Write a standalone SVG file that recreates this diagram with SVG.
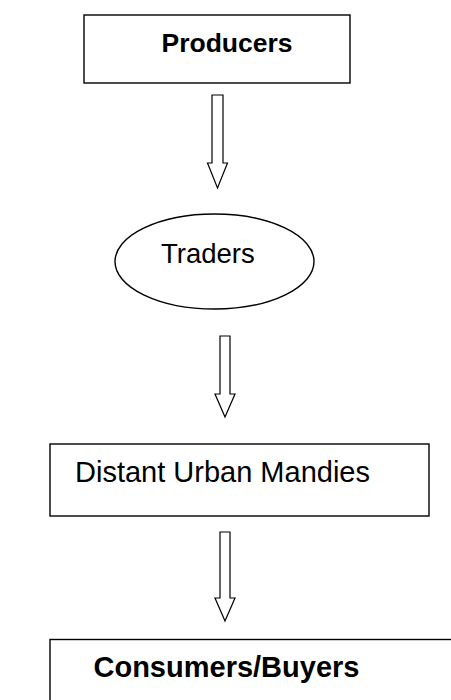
<svg xmlns="http://www.w3.org/2000/svg" width="451" height="700" viewBox="0 0 451 700">
<style>
.box{fill:#fff;stroke:#000;stroke-width:1.4}
.arr{fill:#fff;stroke:#000;stroke-width:1.2;stroke-linejoin:miter}
.t{font-family:"Liberation Sans",Arial,sans-serif;fill:#000}
.b{font-weight:bold}
</style>
<rect width="451" height="700" fill="#fff"/>
<g id="producers">
<rect class="box" x="84" y="15" width="266" height="68"/>
<text class="t b" x="161.5" y="52" font-size="26.5">Producers</text>
</g>
<g id="traders">
<ellipse class="box" cx="214.5" cy="261.5" rx="99.5" ry="47.5"/>
<text class="t" x="161" y="262.5" font-size="27.5">Traders</text>
</g>
<g id="mandies">
<rect class="box" x="50" y="444" width="379" height="72"/>
<text class="t" x="370" y="482" font-size="29" text-anchor="end">Distant Urban Mandies</text>
</g>
<g id="consumers">
<rect class="box" x="50" y="639.5" width="420" height="80"/>
<text class="t b" x="93.5" y="677" font-size="29">Consumers/Buyers</text>
</g>
<g id="connectors">
<path class="arr" d="M212,95 H223 V163 H227.5 L217.5,188 L207.5,163 H212 Z"/>
<path class="arr" d="M220,336 H230 V394 H235 L225,417 L215,394 H220 Z"/>
<path class="arr" d="M220,532 H230 V598 H235 L225,621 L215,598 H220 Z"/>
</g>
</svg>
